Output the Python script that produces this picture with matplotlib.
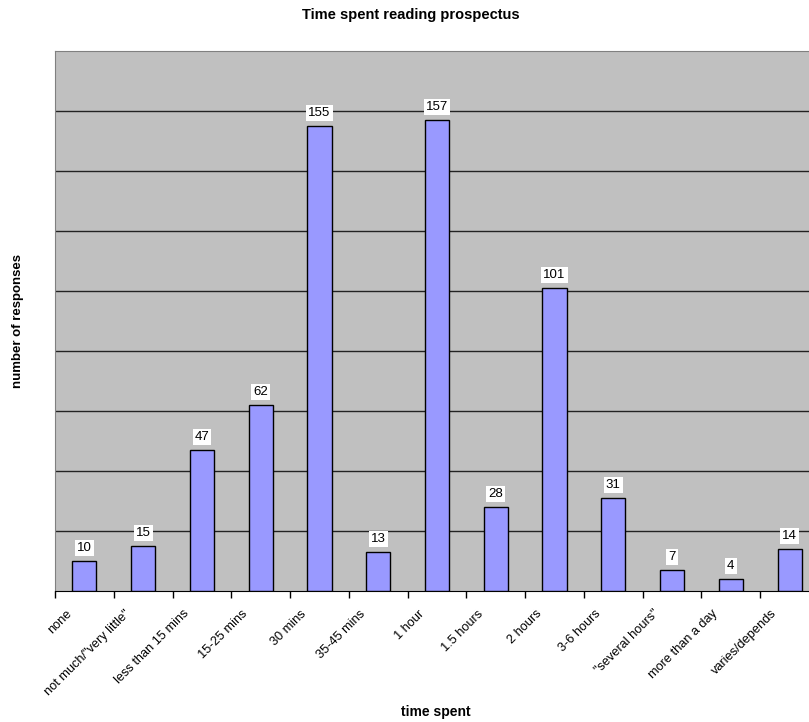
import numpy as np
import matplotlib
matplotlib.use("Agg")
import matplotlib.pyplot as plt
from matplotlib.transforms import ScaledTranslation

plt.rcParams['font.family'] = ['Liberation Sans', 'DejaVu Sans']

# data
categories = ['none', 'not much/"very little"', 'less than 15 mins', '15-25 mins',
              '30 mins', '35-45 mins', '1 hour', '1.5 hours', '2 hours',
              '3-6 hours', '"several hours"', 'more than a day', 'varies/depends']
responses = [10, 15, 47, 62, 155, 13, 157, 28, 101, 31, 7, 4, 14]

fig = plt.figure(figsize=(8.09, 7.22), dpi=100)
# plot area runs slightly past the right edge in the original
ax = fig.add_axes([55 / 809, 131 / 722, 764 / 809, 540 / 722])
ax.set_facecolor('#C0C0C0')

x = np.arange(len(categories))
bars = ax.bar(x, responses, width=0.41, color='#9999FF', edgecolor='black',
              linewidth=1.0, zorder=3)

for xi, v in zip(x, responses):
    ax.annotate(str(v), (xi, v), xytext=(0, 5), textcoords='offset points',
                ha='center', va='bottom', fontsize=9.5, zorder=4,
                bbox=dict(boxstyle='square,pad=0.15', fc='white', ec='none'))

ax.set_xlim(-0.5, len(categories) - 0.5)
ax.set_ylim(0, 180)
ax.set_yticks(np.arange(20, 180, 20))
ax.yaxis.grid(True, color='#222222', linewidth=1.0, zorder=1)
ax.tick_params(axis='y', length=0, labelleft=False)

# labels on categories, tick marks on category boundaries
ax.set_xticks(x)
ax.set_xticklabels(categories, rotation=45, ha='right', rotation_mode='anchor',
                   fontsize=9.2)
ax.tick_params(axis='x', which='major', length=0, pad=12)
shift = ScaledTranslation(-19 / 100, 0, fig.dpi_scale_trans)
for lab in ax.get_xticklabels():
    lab.set_transform(lab.get_transform() + shift)
ax.set_xticks(np.arange(-0.5, len(categories), 1.0), minor=True)
ax.tick_params(axis='x', which='minor', length=5, width=1, color='black')

for s in ['top', 'left', 'right']:
    ax.spines[s].set_color('#808080')
ax.spines['bottom'].set_color('black')

ax.set_ylabel('number of responses', fontsize=9.5, fontweight='bold', labelpad=22)
fig.text(436 / 809, 1 - 712 / 722, 'time spent', ha='center', va='center',
         fontsize=10, fontweight='bold')
fig.text(411 / 809, 1 - 15 / 722, 'Time spent reading prospectus', ha='center',
         va='center', fontsize=10.5, fontweight='bold')

fig.savefig('out.png', dpi=100)
